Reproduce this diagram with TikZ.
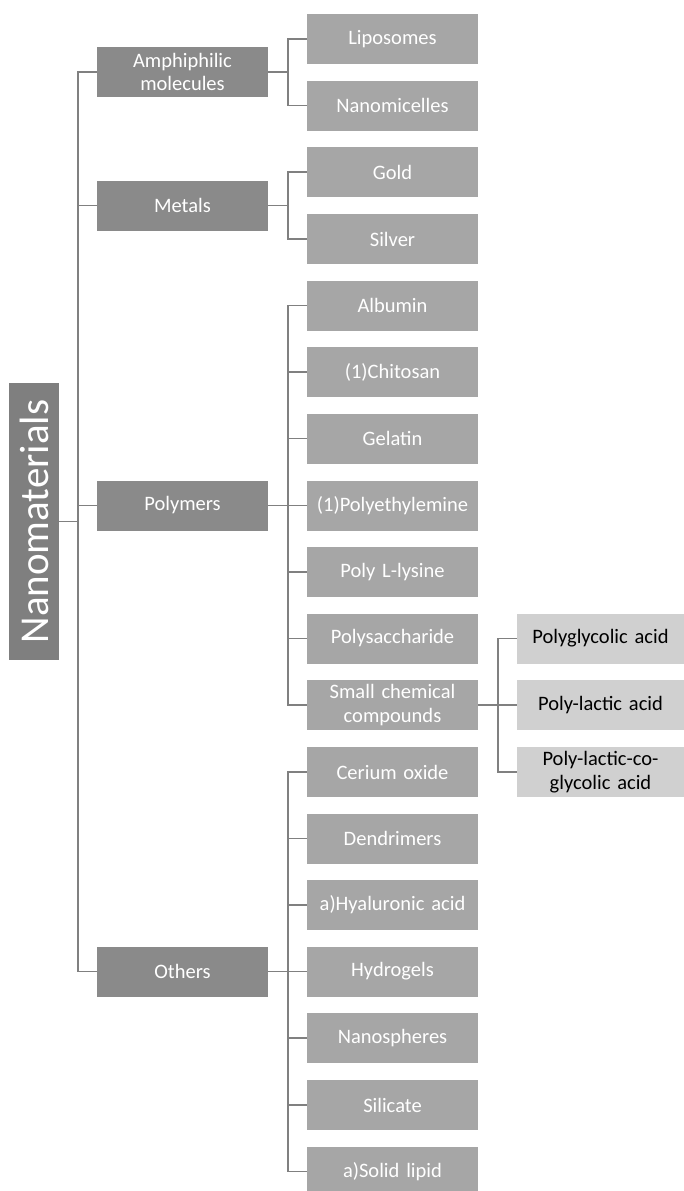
\documentclass[tikz,border=0pt]{standalone}
\usepackage{fontspec}
\setmainfont{Carlito}
\definecolor{rootc}{HTML}{7F7F7F}
\definecolor{lonec}{HTML}{8A8A8A}
\definecolor{ltwoc}{HTML}{A6A6A6}
\definecolor{lthreec}{HTML}{D0D0D0}
\definecolor{linec}{HTML}{808080}
\begin{document}
\begin{tikzpicture}[x=1pt,y=-1pt,
  base/.style={inner sep=2pt,align=center,font=\fontsize{20.5}{23.5}\selectfont},
  lone/.style={base,fill=lonec,text=white,minimum width=171pt,minimum height=50pt,text width=167pt},
  ltwo/.style={base,fill=ltwoc,text=white,minimum width=171pt,minimum height=50pt,text width=167pt},
  lthree/.style={base,fill=lthreec,text=black,minimum width=167pt,minimum height=50pt,text width=163pt},
  conn/.style={draw=linec,line width=1.6pt}]
\useasboundingbox (0,0) rectangle (684,1191);
\node[fill=rootc,text=white,rotate=90,minimum width=277pt,minimum height=50pt,inner sep=0pt,font=\fontsize{41}{44}\selectfont] (root) at (34,521.5) {Nanomaterials};
% level 1
\node[lone] (amph) at (182.5,72) {Amphiphilic\\molecules};
\node[lone] (metals) at (182.5,205.5) {Metals};
\node[lone] (poly) at (182.5,505.5) {Polymers};
\node[lone] (others) at (182.5,971.5) {Others};
% level 2
\node[ltwo] (lipo) at (392.5,39) {Liposomes};
\node[ltwo] (nmic) at (392.5,105.5) {Nanomicelles};
\node[ltwo] (gold) at (392.5,172) {Gold};
\node[ltwo] (silver) at (392.5,239) {Silver};
\node[ltwo] (alb) at (392.5,305.5) {Albumin};
\node[ltwo] (chit) at (392.5,372) {(1)Chitosan};
\node[ltwo] (gel) at (392.5,438.5) {Gelatin};
\node[ltwo] (pei) at (392.5,505.5) {(1)Polyethylemine};
\node[ltwo] (pll) at (392.5,572) {Poly L-lysine};
\node[ltwo] (psac) at (392.5,638.5) {Polysaccharide};
\node[ltwo] (scc) at (392.5,705) {Small chemical\\compounds};
\node[ltwo] (cer) at (392.5,772) {Cerium oxide};
\node[ltwo] (dend) at (392.5,838.5) {Dendrimers};
\node[ltwo] (hya) at (392.5,905) {a)Hyaluronic acid};
\node[ltwo] (hydro) at (392.5,971.5) {Hydrogels};
\node[ltwo] (nsph) at (392.5,1038) {Nanospheres};
\node[ltwo] (sil) at (392.5,1105) {Silicate};
\node[ltwo] (sl) at (392.5,1171.5) {a)Solid lipid};
% level 3
\node[lthree] (pga) at (600.5,638.5) {Polyglycolic acid};
\node[lthree] (pla) at (600.5,705) {Poly-lactic acid};
\node[lthree] (plga) at (600.5,772) {Poly-lactic-co-\\glycolic acid};
% connectors root
\coordinate (t) at (78,521.5);
\draw[conn] (root.south) -- (t);
\foreach \n in {amph,metals,poly,others} \draw[conn] (\n.west) -| (t);
% level 2 connectors
\draw[conn] (amph.east) -- ++(20,0) coordinate (ca);
\foreach \n in {lipo,nmic} \draw[conn] (\n.west) -| (ca);
\draw[conn] (metals.east) -- ++(20,0) coordinate (cm);
\foreach \n in {gold,silver} \draw[conn] (\n.west) -| (cm);
\draw[conn] (poly.east) -- ++(20,0) coordinate (cp);
\foreach \n in {alb,chit,gel,pei,pll,psac,scc} \draw[conn] (\n.west) -| (cp);
\draw[conn] (others.east) -- ++(20,0) coordinate (co);
\foreach \n in {cer,dend,hya,hydro,nsph,sil,sl} \draw[conn] (\n.west) -| (co);
\draw[conn] (scc.east) -- ++(20,0) coordinate (cs);
\foreach \n in {pga,pla,plga} \draw[conn] (\n.west) -| (cs);
\end{tikzpicture}
\end{document}
